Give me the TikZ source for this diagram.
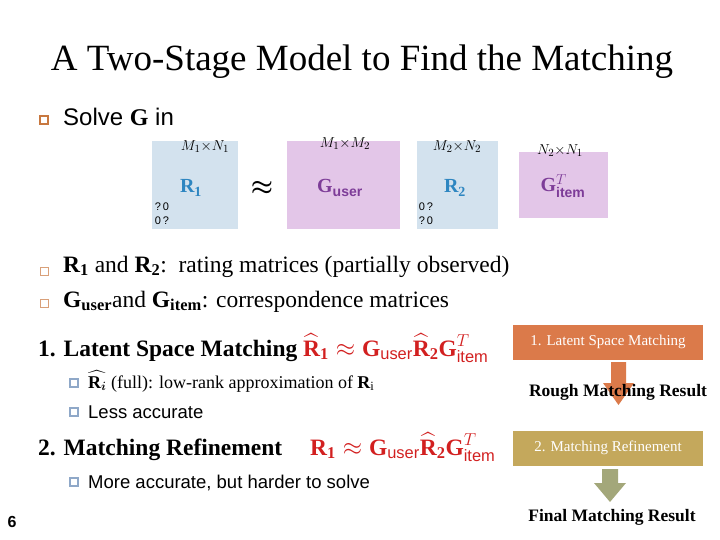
\documentclass[tikz,border=0pt]{standalone}
\usepackage{amsmath,bm}
\usepackage{fontspec}
\setmainfont{Liberation Serif}
\setsansfont{Liberation Sans}
\definecolor{bblue}{HTML}{D3E2EE}
\definecolor{bpink}{HTML}{E3C6E8}
\definecolor{tblue}{HTML}{2E86C1}
\definecolor{tpurp}{HTML}{7D3C98}
\definecolor{tred}{HTML}{D22020}
\definecolor{orng}{HTML}{DB7A4A}
\definecolor{olive}{HTML}{C4A85C}
\definecolor{oliveg}{HTML}{A3A77A}
\definecolor{bulo}{HTML}{C87840}
\definecolor{bulb}{HTML}{8FA8C8}
\tikzset{
 txt/.style={anchor=base west, inner sep=0},
 obul/.style={draw=bulo, line width=1.4pt, minimum size=8pt, inner sep=0},
 obul2/.style={draw=bulo!70, line width=0.8pt, minimum size=8pt, inner sep=0},
 bbul/.style={draw=bulb, line width=1.8pt, fill=white, minimum size=8pt, inner sep=0},
 flow/.style={minimum width=190pt, minimum height=35pt, text=white, font=\fontsize{15}{15}\selectfont},
}
\begin{document}
\begin{tikzpicture}[x=1pt,y=-1pt]
\useasboundingbox (0,0) rectangle (720,540);
\node (title) at (362,62) {\fontsize{37}{37}\selectfont A Two-Stage Model to Find the Matching};
\node[obul] (b0) at (44,120) {};
\node[txt] (t0) at (63,126) {\sffamily\fontsize{24}{24}\selectfont Solve $\mathbf{G}$ in};
% matrices
\fill[bblue] (152,141) rectangle (238,229);
\fill[bpink] (287,141) rectangle (400,229);
\fill[bblue] (417,141) rectangle (498,229);
\fill[bpink] (519,152) rectangle (608,218);
\node (r1) at (191,188) {\color{tblue}\fontsize{20}{20}\selectfont$\mathbf{R}_{\mathbf 1}$};
\node (gu) at (340,188) {\color{tpurp}\fontsize{20}{20}\selectfont$\mathbf{G}_{\textbf{\sffamily user}}$};
\node (r2) at (455,188) {\color{tblue}\fontsize{20}{20}\selectfont$\mathbf{R}_{\mathbf 2}$};
\node (gi) at (563,186) {\color{tpurp}\fontsize{20}{20}\selectfont$\mathbf{G}^{T}_{\textbf{\sffamily item}}$};
\node (ap) at (262,188) {\fontsize{30}{30}\selectfont$\boldsymbol{\approx}$};
\node (l1) at (205,147) {\fontsize{15}{15}\selectfont$M_1{\times}N_1$};
\node (l2) at (345,144) {\fontsize{15}{15}\selectfont$M_1{\times}M_2$};
\node (l3) at (457,147) {\fontsize{15}{15}\selectfont$M_2{\times}N_2$};
\node (l4) at (560,151) {\fontsize{15}{15}\selectfont$N_2{\times}N_1$};
\node[align=left, font=\sffamily\fontsize{11}{14}\selectfont] (q1) at (162,214) {?\,0\\0\,?};
\node[align=left, font=\sffamily\fontsize{11}{14}\selectfont] (q2) at (426,214) {0\,?\\?\,0};
% bullets
\node[obul2] (b1) at (44,271) {};
\node[txt] (t1) at (63,272) {\fontsize{23.5}{23.5}\selectfont$\mathbf{R}_{\mathbf 1}$ and $\mathbf{R}_{\mathbf 2}$:\ \ rating matrices (partially observed)};
\node[obul2] (b2) at (44,303) {};
\node[txt] (t2) at (63,307) {\fontsize{23.5}{23.5}\selectfont$\mathbf{G}_{\textbf{user}}$and $\mathbf{G}_{\textbf{item}}$: correspondence matrices};
\node[txt] (t3) at (38,356) {\fontsize{23.5}{23.5}\selectfont\textbf{1. Latent Space Matching} {\color{tred}$\widehat{\mathbf{R}}_{\mathbf 1}\approx\mathbf{G}_{\textsf{user}}\widehat{\mathbf{R}}_{\mathbf 2}\mathbf{G}^{T}_{\textsf{item}}$}};
\node[bbul] (b3) at (74,383) {};
\node[txt] (t4) at (88,388) {\fontsize{18}{18}\selectfont$\widehat{\mathbf{R}_{\bm i}}$ (full): low-rank approximation of $\mathbf{R}_{\mathrm i}$};
\node[bbul] (b4) at (74,412) {};
\node[txt] (t5) at (88,418) {\sffamily\fontsize{18.5}{18.5}\selectfont Less accurate};
\node[txt] (t6) at (38,455) {\fontsize{23.5}{23.5}\selectfont\textbf{2. Matching Refinement}};
\node[txt] (t7) at (310,455) {\fontsize{23.5}{23.5}\selectfont{\color{tred}$\mathbf{R}_{\mathbf 1}\approx\mathbf{G}_{\textsf{user}}\widehat{\mathbf{R}}_{\mathbf 2}\mathbf{G}^{T}_{\textsf{item}}$}};
\node[bbul] (b5) at (74,482) {};
\node[txt] (t8) at (88,488) {\sffamily\fontsize{18.5}{18.5}\selectfont More accurate, but harder to solve};
\node (six) at (12,522) {\sffamily\bfseries\fontsize{16}{16}\selectfont 6};
% flow
\node[flow, fill=orng] (f1) at (608,342) {1. Latent Space Matching};
\fill[orng] (611,362) -- (626,362) -- (626,383) -- (634,383) -- (618.5,405) -- (603,383) -- (611,383) -- cycle;
\node (rough) at (618,392) {\bfseries\fontsize{17.5}{17.5}\selectfont Rough Matching Result};
\node[flow, fill=olive] (f2) at (608,448) {2. Matching Refinement};
\fill[oliveg] (602,469) -- (618,469) -- (618,483) -- (626,483) -- (610,502) -- (594,483) -- (602,483) -- cycle;
\node (fin) at (612,517) {\bfseries\fontsize{17.5}{17.5}\selectfont Final Matching Result};
\end{tikzpicture}
\end{document}
